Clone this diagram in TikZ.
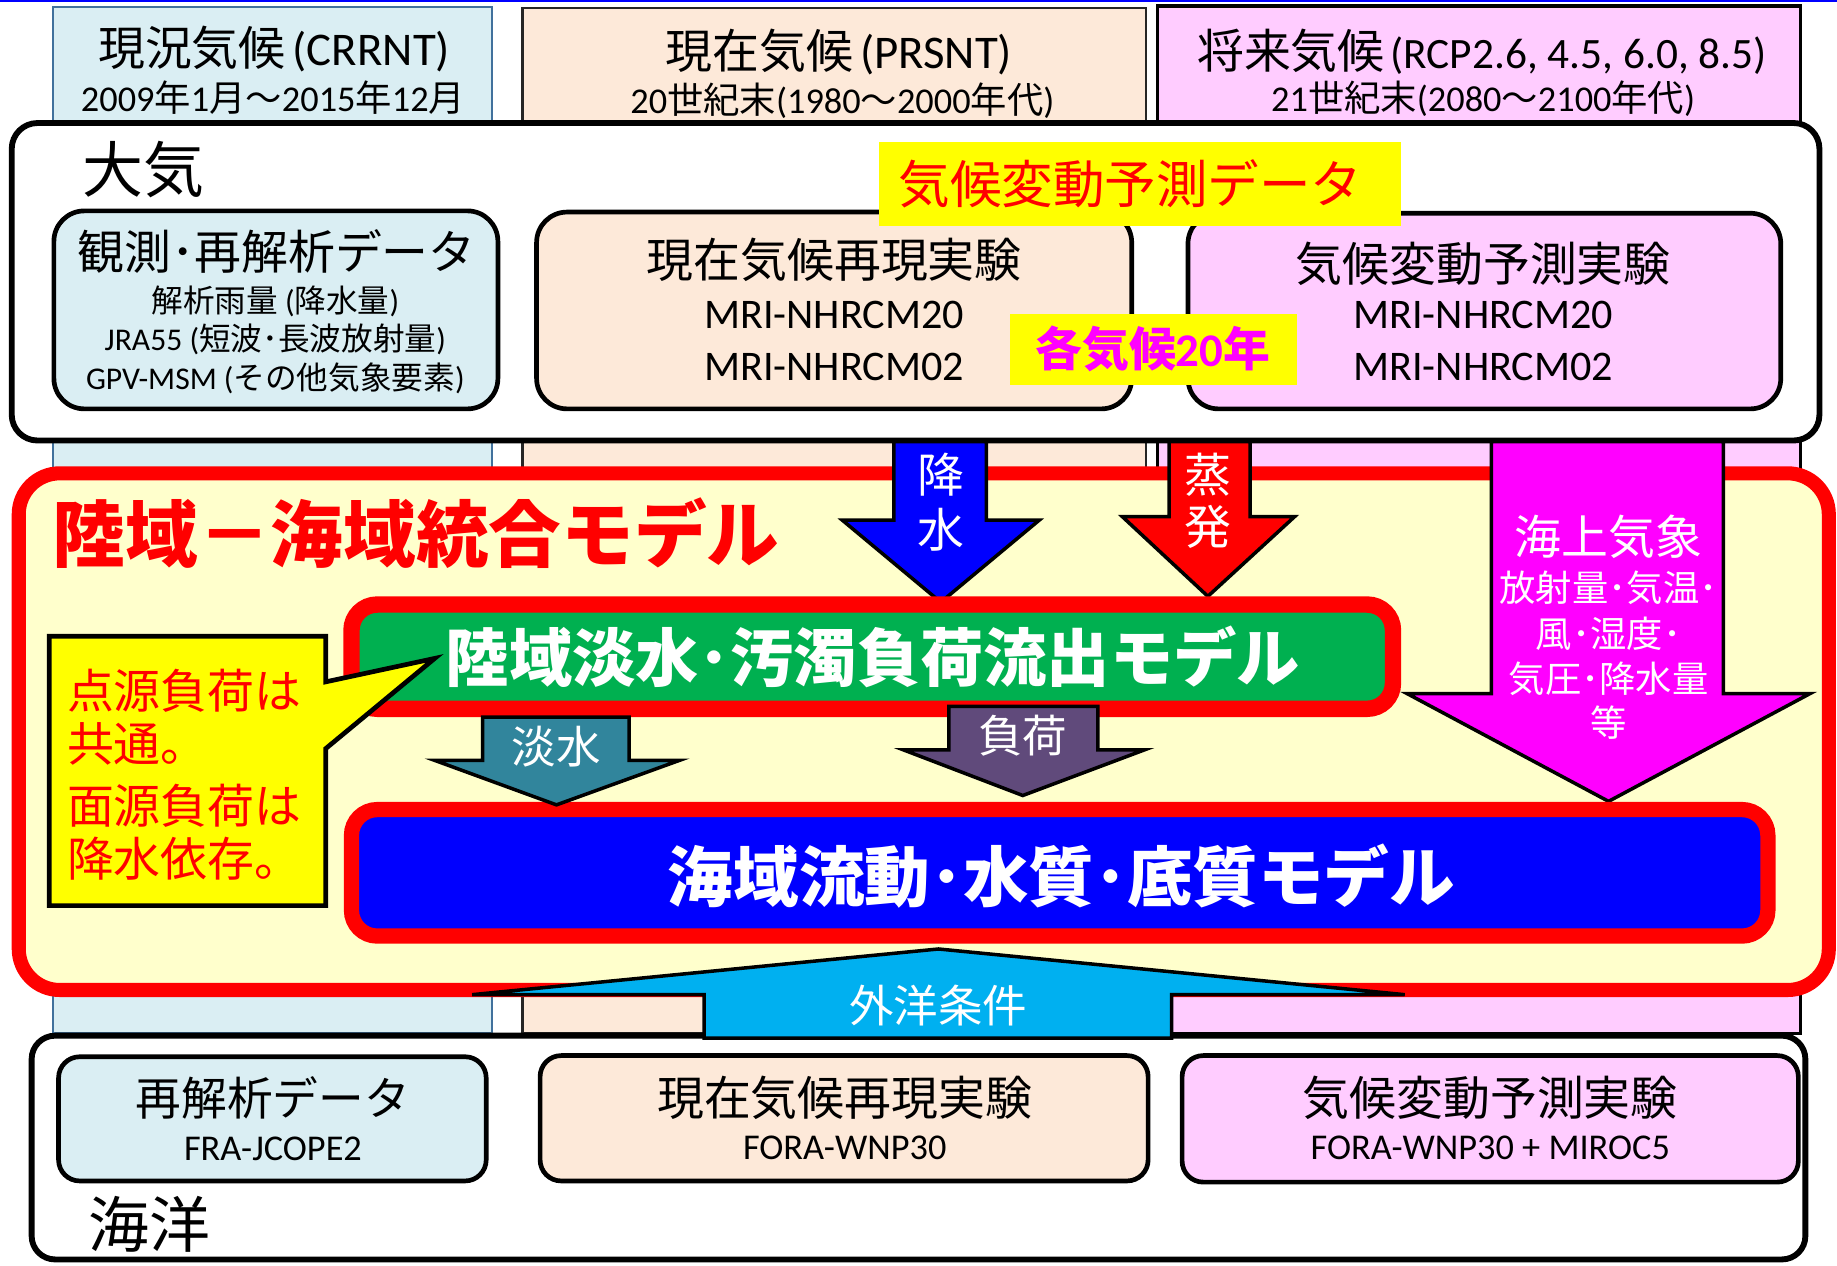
\documentclass[tikz,border=0pt]{standalone}
\usepackage{fontspec}
\setmainfont{Noto Sans CJK JP}
\newfontfamily\lat{Carlito}
\definecolor{cBlueL}{HTML}{DAEEF3}
\definecolor{cPeach}{HTML}{FDE9D9}
\definecolor{cPink}{HTML}{FFCCFF}
\definecolor{cYel}{HTML}{FFFF00}
\definecolor{cCream}{HTML}{FFFFCC}
\definecolor{cRed}{HTML}{FF0000}
\definecolor{cGreen}{HTML}{00B050}
\definecolor{cBlue}{HTML}{0000FF}
\definecolor{cMag}{HTML}{FF00FF}
\definecolor{cTeal}{HTML}{31859C}
\definecolor{cPurp}{HTML}{604A7B}
\definecolor{cCyan}{HTML}{00B0F0}
\definecolor{cColB}{HTML}{41719C}
\newcommand\fs[1]{\fontsize{#1}{#1}\selectfont}
\tikzset{
  colbox/.style={rectangle, line width=2, inner sep=0},
  frame/.style={rectangle, draw=black, line width=5, fill=white, rounded corners=22, inner sep=0},
  subbox/.style={rectangle, draw=black, line width=4, rounded corners=26, inner sep=0},
  modelbox/.style={rectangle, draw=cRed, rounded corners=22, inner sep=0},
  lbl/.style={inner sep=0, anchor=center},
  barrow/.style={draw=black, line width=3, line join=miter},
  wtxt/.style={inner sep=0, text=white},
}
\begin{document}
\begin{tikzpicture}[x=1pt,y=-1pt]
\useasboundingbox (0,0) rectangle (1568,1080);
\fill[cBlue] (0,0) rectangle (1568,1.5);

% columns
\node[colbox, draw=cColB, fill=cBlueL, minimum width=375, minimum height=876] (c1) at (232.5,444) {};
\node[colbox, draw=black!85, fill=cPeach, minimum width=532, minimum height=875] (c2) at (712,444.5) {};
\node[colbox, draw=black, line width=3, fill=cPink, minimum width=549, minimum height=877] (c3) at (1262.5,443.5) {};
\node[lbl] (h1a) at (234,42) {\fs{40}現況気候{\lat\fs{40}\hspace{6pt}(CRRNT)}};
\node[lbl] (h1b) at (233,83) {\fs{31}{\lat 2009}年{\lat 1}月～{\lat 2015}年{\lat 12}月};
\node[lbl] (h2a) at (716,44) {\fs{40}現在気候{\lat\fs{40}\hspace{6pt}(PRSNT)}};
\node[lbl] (h2b) at (719,86) {\fs{31}{\lat 20}世紀末{\lat (1980}～{\lat 2000}年代{\lat )}};
\node[lbl] (h3a) at (1265,44) {\fs{40}将来気候{\lat\fs{37}\hspace{5pt}(RCP2.6, 4.5, 6.0, 8.5)}};
\node[lbl] (h3b) at (1266,84) {\fs{31}{\lat 21}世紀末{\lat (2080}～{\lat 2100}年代{\lat )}};

% integrated model frame
\node[rectangle, draw=cRed, line width=12, fill=cCream, rounded corners=35, minimum width=1545, minimum height=441, inner sep=0] (rb) at (788.5,624.5) {};
\node[inner sep=0, anchor=west, text=cRed] (rbt) at (45,455) {\bfseries\fs{62}陸域－海域統合モデル};

% atmosphere
\node[frame, minimum width=1543, minimum height=271] (atm) at (781.5,240.5) {};
\node[inner sep=0, anchor=west] (atmL) at (70,145) {\fs{52}大気};
\node[subbox, fill=cBlueL, minimum width=379, minimum height=169] (ab1) at (235.5,264.5) {};
\node[lbl] (ab1t) at (236,215) {\fs{40}観測･再解析データ};
\node[lbl] (ab1a) at (235,257) {\fs{27}解析雨量 {\lat (}降水量{\lat )}};
\node[lbl] (ab1b) at (235,290) {\fs{27}{\lat JRA55 (}短波･長波放射量{\lat )}};
\node[lbl] (ab1c) at (235,323) {\fs{27}{\lat GPV-MSM (}その他気象要素{\lat )}};
\node[subbox, fill=cPeach, minimum width=508, minimum height=168] (ab2) at (712,265) {};
\node[lbl] (ab2t) at (712,222) {\fs{40}現在気候再現実験};
\node[lbl] (ab2a) at (712,269) {\lat\fs{36}MRI-NHRCM20};
\node[lbl] (ab2b) at (712,313) {\lat\fs{36}MRI-NHRCM02};
\node[subbox, fill=cPink, minimum width=506, minimum height=167] (ab3) at (1267,265.5) {};
\node[lbl] (ab3t) at (1266,225) {\fs{40}気候変動予測実験};
\node[lbl] (ab3a) at (1266,269) {\lat\fs{36}MRI-NHRCM20};
\node[lbl] (ab3b) at (1266,313) {\lat\fs{36}MRI-NHRCM02};
\node[rectangle, fill=cYel, minimum width=446, minimum height=72, inner sep=0] (y1) at (973,157) {};
\node[lbl, text=cRed] (y1t) at (965,157) {\fs{44}気候変動予測データ};
\node[rectangle, fill=cYel, minimum width=245, minimum height=61, inner sep=0] (y2) at (984.5,298.5) {};
\node[lbl, text=cMag] (y2t) at (984,298) {\bfseries\fs{40}各気候{\lat 20}年};

% arrows from atmosphere
\filldraw[barrow, fill=cBlue] (763,377) -- (763,444) -- (719,444) -- (803,514) -- (887,444) -- (842,444) -- (842,377) -- cycle;
\node[wtxt] (pr1) at (803,405) {\fs{40}降};
\node[wtxt] (pr2) at (803,452) {\fs{40}水};
\filldraw[barrow, fill=cRed] (998,377) -- (998,441) -- (958,441) -- (1031,509) -- (1105,441) -- (1067,441) -- (1067,377) -- cycle;
\node[wtxt] (ev1) at (1031,405) {\fs{40}蒸};
\node[wtxt] (ev2) at (1031,450) {\fs{40}発};
\filldraw[barrow, fill=cMag] (1273,377) -- (1273,592) -- (1201,592) -- (1373,684) -- (1545,592) -- (1471,592) -- (1471,377) -- cycle;
\node[wtxt] (mw1) at (1373,458) {\fs{40}海上気象};
\node[wtxt] (mw2) at (1373,502) {\fs{31}放射量･気温･};
\node[wtxt] (mw3) at (1373,541) {\fs{31}風･湿度･};
\node[wtxt] (mw4) at (1373,579) {\fs{31}気圧･降水量};
\node[wtxt] (mw5) at (1373,617) {\fs{31}等};

% model boxes
\node[modelbox, line width=14, fill=cGreen, minimum width=889, minimum height=89] (gb) at (744.5,560.5) {};
\node[wtxt] (gbt) at (745,561) {\bfseries\fs{54}陸域淡水･汚濁負荷流出モデル};
\node[modelbox, line width=13, fill=cBlue, minimum width=1209, minimum height=108] (bb) at (904.5,745) {};
\node[wtxt] (bbt) at (906,748) {\bfseries\fs{56}海域流動･水質･底質モデル};

\filldraw[barrow, fill=cTeal] (412,612) -- (412,649) -- (371,649) -- (475,687) -- (580,649) -- (537,649) -- (537,612) -- cycle;
\node[wtxt] (fw) at (475,637) {\fs{38}淡水};
\filldraw[barrow, fill=cPurp] (810,603) -- (810,640) -- (771,640) -- (873,679) -- (977,640) -- (937,640) -- (937,603) -- cycle;
\node[wtxt] (ld) at (873,628) {\fs{38}負荷};

% callout
\filldraw[draw=black, line width=4, fill=cYel, line join=miter] (42,543) -- (278,543) -- (278,582) -- (371,562) -- (278,639) -- (278,773) -- (42,773) -- cycle;
\node[inner sep=0, anchor=west, text=cRed] (co1) at (57,590) {\fs{40}点源負荷は};
\node[inner sep=0, anchor=west, text=cRed] (co2) at (57,635) {\fs{40}共通。};
\node[inner sep=0, anchor=west, text=cRed] (co3) at (57,688) {\fs{40}面源負荷は};
\node[inner sep=0, anchor=west, text=cRed] (co4) at (57,733) {\fs{40}降水依存。};

% ocean
\node[frame, rounded corners=20, minimum width=1514, minimum height=191] (ocn) at (784,979.5) {};
\node[inner sep=0, anchor=west] (ocnL) at (75,1045) {\fs{52}海洋};
\node[subbox, rounded corners=18, fill=cBlueL, minimum width=365, minimum height=106] (ob1) at (232.5,955) {};
\node[lbl] (ob1t) at (233,937) {\fs{39}再解析データ};
\node[lbl] (ob1a) at (233,981) {\lat\fs{31}FRA-JCOPE2};
\node[subbox, rounded corners=18, fill=cPeach, minimum width=519, minimum height=107] (ob2) at (720.5,954.5) {};
\node[lbl] (ob2t) at (721,937) {\fs{40}現在気候再現実験};
\node[lbl] (ob2a) at (721,980) {\lat\fs{31}FORA-WNP30};
\node[subbox, rounded corners=18, fill=cPink, minimum width=526, minimum height=108] (ob3) at (1272,955) {};
\node[lbl] (ob3t) at (1272,937) {\fs{40}気候変動予測実験};
\node[lbl] (ob3a) at (1272,980) {\lat\fs{31}FORA-WNP30 + MIROC5};

% open-ocean boundary arrow
\filldraw[barrow, fill=cCyan] (601,886) -- (601,849) -- (403,849) -- (801,810) -- (1199,849) -- (1000,849) -- (1000,886) -- cycle;
\node[wtxt] (oc) at (801,858) {\fs{38}外洋条件};
\end{tikzpicture}
\end{document}
